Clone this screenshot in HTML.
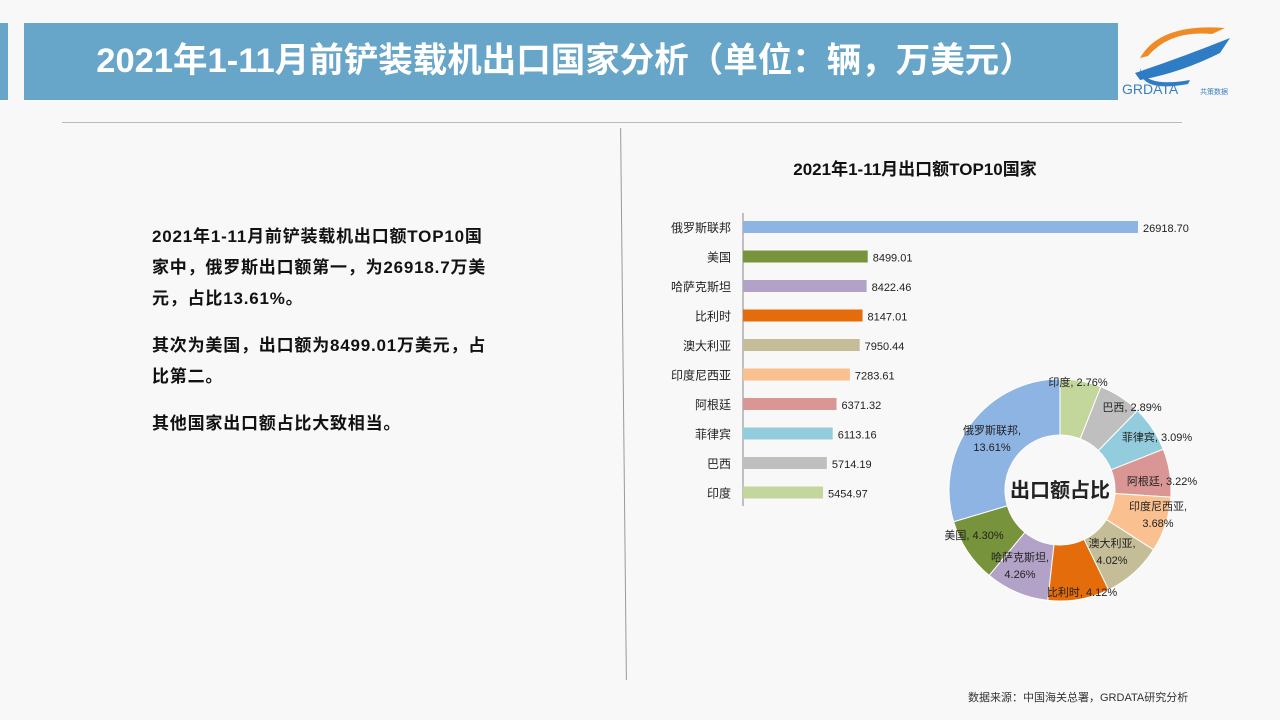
<!DOCTYPE html>
<html><head><meta charset="utf-8"><style>
body{margin:0;width:1280px;height:720px;background:#f8f8f8;position:relative;overflow:hidden;font-family:"Liberation Sans","Noto Sans CJK SC",sans-serif;}
.abs{position:absolute;}
</style></head><body>
<div class="abs" style="left:0;top:23px;width:8px;height:77px;background:#67a5c9"></div>
<div class="abs" style="left:24px;top:23px;width:1094px;height:77px;background:#67a5c9"></div>
<div class="abs" style="left:24px;top:23px;width:1082px;height:77px;line-height:77px;text-align:center;color:#fff;font-weight:bold;font-size:34.5px;font-family:'Liberation Sans','Noto Sans CJK SC',sans-serif">2021年1-11月前铲装载机出口国家分析（单位：辆，万美元）</div>
<svg class="abs" style="left:1120px;top:18px" width="130" height="85">
<path d="M20 40 Q40 5 105 10 L92 16 Q50 12 28 38 Z" fill="#f08a24"/>
<path d="M15 55 Q60 40 110 20 L100 35 Q60 55 20 62 Z" fill="#2e7cc4"/>
<path d="M20 50 Q25 70 70 62 L68 66 Q20 75 20 50Z" fill="#2e7cc4"/>
<text x="2" y="76" font-size="14" fill="#3a7fc0" font-family="Liberation Sans">GRDATA</text>
<text x="80" y="76" font-size="7" fill="#3a7fc0" font-family="Noto Sans CJK SC">共策数据</text>
</svg>
<div class="abs" style="left:62px;top:122px;width:1120px;height:1px;background:#bbb"></div>
<div class="abs" style="left:623px;top:128px;width:1px;height:552px;background:#999;transform:rotate(-0.6deg)"></div>
<div class="abs" style="left:152px;top:221px;width:380px;font-size:17px;letter-spacing:0.8px;font-weight:bold;line-height:31px;color:#111;white-space:nowrap">
<p style="margin:0 0 16px">2021年1-11月前铲装载机出口额TOP10国<br>家中，俄罗斯出口额第一，为26918.7万美<br>元，占比13.61%。</p>
<p style="margin:0 0 16px">其次为美国，出口额为8499.01万美元，占<br>比第二。</p>
<p style="margin:0">其他国家出口额占比大致相当。</p>
</div>
<div class="abs" style="left:700px;top:155px;width:430px;text-align:center;font-size:17px;font-weight:bold;color:#111">2021年1-11月出口额TOP10国家</div>
<svg class="abs" id="chart" style="left:0;top:0" width="1280" height="720"></svg>
<div class="abs" style="left:968px;top:689px;font-size:11px;color:#333">数据来源：中国海关总署，GRDATA研究分析</div>
<script>
const countries=["俄罗斯联邦","美国","哈萨克斯坦","比利时","澳大利亚","印度尼西亚","阿根廷","菲律宾","巴西","印度"];
const values=[26918.70,8499.01,8422.46,8147.01,7950.44,7283.61,6371.32,6113.16,5714.19,5454.97];
const shares=["13.61%","4.30%","4.26%","4.12%","4.02%","3.68%","3.22%","3.09%","2.89%","2.76%"];
const colors=["#8eb4e3","#77933c","#b3a2c7","#e46c0a","#c4bd97","#fac090","#d99694","#93cddd","#bfbfbf","#c3d69b"];
const svg=document.getElementById('chart');const NS="http://www.w3.org/2000/svg";
function mk(t,a,txt){const e=document.createElementNS(NS,t);for(const k in a)e.setAttribute(k,a[k]);if(txt!==undefined)e.textContent=txt;svg.appendChild(e);return e;}
const x0=743,xs=v=>v*395/26918.7,yc=i=>227+i*29.5;
const ax=mk('line',{x1:x0,y1:213,x2:x0,y2:506,stroke:'#888'});

values.forEach((v,i)=>{
const r=mk('rect',{x:x0,y:yc(i)-6,width:xs(v),height:12,fill:colors[i]});

const l=mk('text',{x:x0-12,y:yc(i)+5,'text-anchor':'end','font-size':12,fill:'#222'},countries[i]);

const t=mk('text',{x:x0+xs(v)+5,y:yc(i)+5,'font-size':11,fill:'#222'},v.toFixed(2));

});
const cx=1060,cy=490,R=111,r0=55;
const total=values.reduce((a,b)=>a+b,0);
let ang=0;
const order=[9,8,7,6,5,4,3,2,1,0];
const lp={9:[1078,386,1],8:[1132,411,1],7:[1157,441,1],6:[1162,485,1],5:[1158,510,2],4:[1112,547,2],3:[1082,596,1],2:[1020,561,2],1:[974,539,1],0:[992,434,2]};
order.forEach(i=>{
const a0=ang,a1=ang+values[i]/total*2*Math.PI;ang=a1;
const p=(a,rr)=>[cx+rr*Math.sin(a),cy-rr*Math.cos(a)];
const [x1,y1]=p(a0,R),[x2,y2]=p(a1,R),[x3,y3]=p(a1,r0),[x4,y4]=p(a0,r0);
const lg=(a1-a0)>Math.PI?1:0;
const s=mk('path',{d:`M${x1} ${y1}A${R} ${R} 0 ${lg} 1 ${x2} ${y2}L${x3} ${y3}A${r0} ${r0} 0 ${lg} 0 ${x4} ${y4}Z`,fill:colors[i],stroke:'#fff','stroke-width':1});

});
order.forEach(i=>{
const [lx,ly,n]=lp[i];
if(n===1){const t=mk('text',{x:lx,y:ly,'text-anchor':'middle','font-size':11,fill:'#222'},countries[i]+", "+shares[i]);
}
else{const t=mk('text',{x:lx,y:ly,'text-anchor':'middle','font-size':11,fill:'#222'},countries[i]+",");

const t2=mk('text',{x:lx,y:ly+17,'text-anchor':'middle','font-size':11,fill:'#222'},shares[i]);
}
});
const c=mk('text',{x:cx,y:cy+7,'text-anchor':'middle','font-size':20,'font-weight':'bold',fill:'#222'},'出口额占比');

</script>
</body></html>
